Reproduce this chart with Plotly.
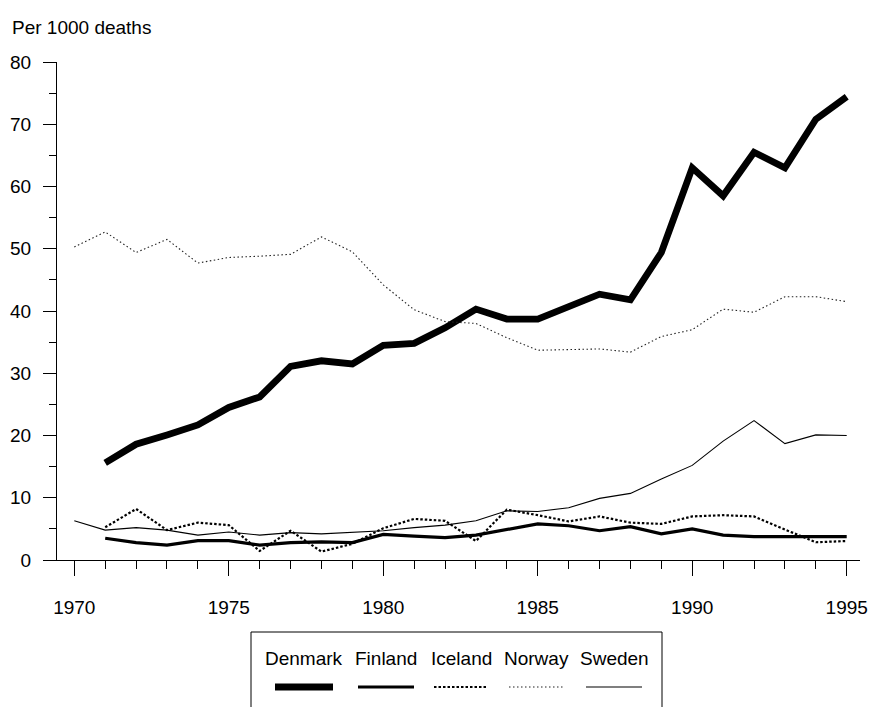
import plotly.graph_objects as go

# ---- data ----
years = list(range(1970, 1996))
denmark = [None, 15.6, 18.6, 20.1, 21.7, 24.5, 26.2, 31.1, 32.0, 31.5, 34.5, 34.8, 37.3,
           40.3, 38.7, 38.7, 40.8, 42.7, 41.8, 49.4, 63.0, 58.5, 65.5, 63.0, 70.8, 74.4]
finland = [None, 3.5, 2.8, 2.4, 3.1, 3.1, 2.4, 2.8, 2.9, 2.8, 4.1, 3.85, 3.6,
           4.0, 4.9, 5.8, 5.5, 4.7, 5.35, 4.2, 5.0, 4.0, 3.75, 3.75, 3.75, 3.75]
iceland = [None, 5.25, 8.2, 4.8, 6.0, 5.6, 1.45, 4.7, 1.35, 2.6, 5.1, 6.6, 6.3,
           3.05, 8.1, 7.2, 6.2, 7.0, 6.0, 5.8, 7.0, 7.2, 7.0, 4.9, 2.85, 3.05]
norway = [50.3, 52.7, 49.4, 51.5, 47.7, 48.6, 48.8, 49.1, 51.9, 49.5, 44.2, 40.2, 38.3,
          38.0, 35.7, 33.7, 33.8, 33.9, 33.4, 35.9, 37.0, 40.3, 39.8, 42.3, 42.3, 41.5]
sweden = [6.3, 4.8, 5.2, 4.8, 4.0, 4.5, 4.0, 4.4, 4.2, 4.5, 4.7, 5.2, 5.6,
          6.3, 7.9, 7.8, 8.4, 9.9, 10.7, 13.0, 15.2, 19.1, 22.4, 18.7, 20.1, 20.0]

names = ["Denmark", "Finland", "Iceland", "Norway", "Sweden"]
series = [denmark, finland, iceland, norway, sweden]
y_ticks = [0, 10, 20, 30, 40, 50, 60, 70, 80]
x_ticks = [1970, 1975, 1980, 1985, 1990, 1995]

# ---- styles ----
styles = [
    dict(color="black", width=6.8, dash="solid"),
    dict(color="black", width=3.2, dash="solid"),
    dict(color="black", width=2.2, dash="2.5px,2px"),
    dict(color="#222222", width=1.1, dash="1.5px,2.5px"),
    dict(color="black", width=1.1, dash="solid"),
]

FONT = "Liberation Sans, Arial, Helvetica, sans-serif"
FS = 19
W, H = 869, 707
# plot area in page pixels: x 57..860, y 62..560
L, T = 57, 62
R, B = W - 860, H - 560
PW, PH = W - L - R, H - T - B


def px_x(p):
    return (p - L) / PW


def px_y(p):
    return (H - B - p) / PH


fig = go.Figure()
for name, vals, st in zip(names, series, styles):
    fig.add_trace(go.Scatter(x=years, y=vals, mode="lines", name=name,
                             line=st, connectgaps=False, showlegend=False,
                             hoverinfo="x+y+name", cliponaxis=False))

fig.update_layout(
    width=W, height=H,
    margin=dict(l=L, r=R, t=T, b=B, pad=0, autoexpand=False),
    paper_bgcolor="white", plot_bgcolor="white",
    font=dict(family=FONT, size=FS, color="black"),
    showlegend=False,
)

fig.update_xaxes(
    range=[1969.44, 1995.43], showgrid=False, zeroline=False, automargin=False,
    showline=True, linecolor="black", linewidth=1,
    tickmode="array", tickvals=x_ticks, ticktext=[str(v) for v in x_ticks],
    ticks="outside", ticklen=15, tickwidth=1, tickcolor="black",
    ticklabelstandoff=15, ticklabeloverflow="allow",
    minor=dict(dtick=1, tick0=1970, ticks="outside", ticklen=8, tickwidth=1,
               tickcolor="black", showgrid=False),
    tickfont=dict(size=FS, family=FONT),
)
fig.update_yaxes(
    range=[0, 80], showgrid=False, zeroline=False, automargin=False,
    showline=True, linecolor="black", linewidth=1,
    tickmode="array", tickvals=y_ticks, ticktext=[str(v) for v in y_ticks],
    ticks="outside", ticklen=13, tickwidth=1, tickcolor="black",
    ticklabelstandoff=8, ticklabeloverflow="allow",
    minor=dict(dtick=5, tick0=0, ticks="outside", ticklen=7, tickwidth=1,
               tickcolor="black", showgrid=False),
    tickfont=dict(size=FS, family=FONT),
)

# title
fig.add_annotation(text="Per 1000 deaths", xref="paper", yref="paper",
                   x=px_x(10), y=px_y(27), xanchor="left", yanchor="middle",
                   showarrow=False, font=dict(size=FS, family=FONT))

# legend (text above line sample)
legend_box = (251, 632, 662, 730)
fig.add_shape(type="rect", xref="paper", yref="paper",
              x0=px_x(legend_box[0]), x1=px_x(legend_box[2]),
              y0=px_y(legend_box[1]), y1=px_y(legend_box[3]),
              line=dict(color="black", width=1), fillcolor="white", layer="below")
legend_centers = [304, 386, 461, 536, 614]
legend_half = [29, 28, 27, 27, 28]
text_y, line_y = 658, 687
for name, st, cx, hw in zip(names, styles, legend_centers, legend_half):
    fig.add_annotation(text=name, xref="paper", yref="paper",
                       x=px_x(cx), y=px_y(text_y), xanchor="center", yanchor="middle",
                       showarrow=False, font=dict(size=FS, family=FONT))
    fig.add_shape(type="line", xref="paper", yref="paper",
                  x0=px_x(cx - hw), x1=px_x(cx + hw), y0=px_y(line_y), y1=px_y(line_y),
                  line=st)

fig.write_html(
    "out.html",
    config={"displayModeBar": False},
    post_script="document.body.style.margin='0';"
                "document.documentElement.style.overflow='hidden';"
                "document.body.style.overflow='hidden';",
)
